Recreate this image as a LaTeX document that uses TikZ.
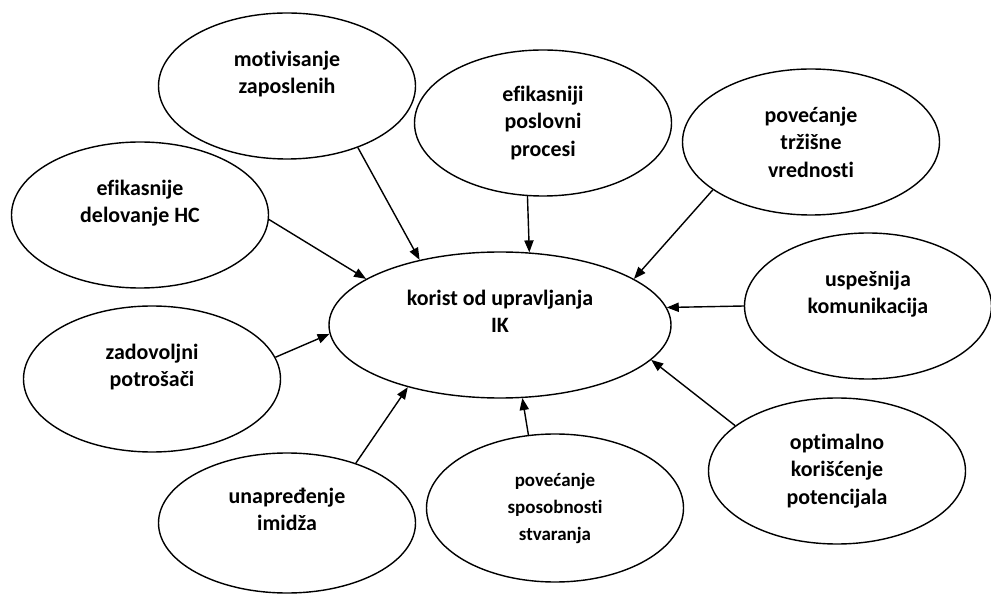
\documentclass[tikz,border=0pt]{standalone}
\usepackage{fontspec}
\setmainfont{Carlito}[Ligatures=NoCommon]
\usepackage{tikz}
\usetikzlibrary{arrows.meta,shapes.geometric}

\begin{document}
\begin{tikzpicture}[
  every node/.style={font=\bfseries\fontsize{15.6}{19.5}\selectfont},
  goal/.style={ellipse, draw, line width=1pt, inner sep=0pt, minimum width=6.425cm, minimum height=3.65cm, align=center},
  arrow/.style={-{Triangle[length=0.3cm, width=0.23cm]}, line width=1pt}
]
\useasboundingbox (0,0) rectangle (24.775,-14.85);

\node[goal, minimum width=8.55cm] (korist) at (12.5,-8.125) {korist od upravljanja\\IK\\~};

\node[goal] (motivisanje) at (7.175,-2.15) {motivisanje\\zaposlenih\\~};
\node[goal] (efikasniji) at (13.575,-3.075) {efikasniji\\poslovni\\procesi};
\node[goal] (trzisne) at (20.275,-3.55) {povećanje\\tržišne\\vrednosti};
\node[goal] (delovanje) at (3.5,-5.375) {efikasnije\\delovanje HC\\~};
\node[goal, minimum width=6.175cm] (uspesnija) at (21.7,-7.65) {uspešnija\\komunikacija\\~};
\node[goal] (zadovoljni) at (3.8,-9.475) {zadovoljni\\potrošači\\~};
\node[goal, minimum height=3.5cm] (imidz) at (7.175,-13.075) {unapređenje\\imidža\\~};
\node[goal, minimum height=3.7cm, font=\bfseries\fontsize{13.5}{19.2}\selectfont] (sposobnosti) at (13.875,-12.7) {povećanje\\sposobnosti\\stvaranja};
\node[goal] (optimalno) at (20.925,-11.775) {optimalno\\korišćenje\\potencijala};

\draw[arrow] (motivisanje.-41) -- (korist.141);
\draw[arrow] (delovanje.-2) -- (korist.161);
\draw[arrow] (efikasniji.258.5) -- (korist.68.7);
\draw[arrow] (trzisne.206) -- (korist.19.8);
\draw[arrow] (uspesnija.180) -- (korist.6.5);
\draw[arrow] (zadovoljni.10) -- (korist.183.4);
\draw[arrow] (imidz.41.4) -- (korist.214);
\draw[arrow] (sposobnosti.110.7) -- (korist.287.4);
\draw[arrow] (optimalno.156.3) -- (korist.-13);
\end{tikzpicture}
\end{document}
